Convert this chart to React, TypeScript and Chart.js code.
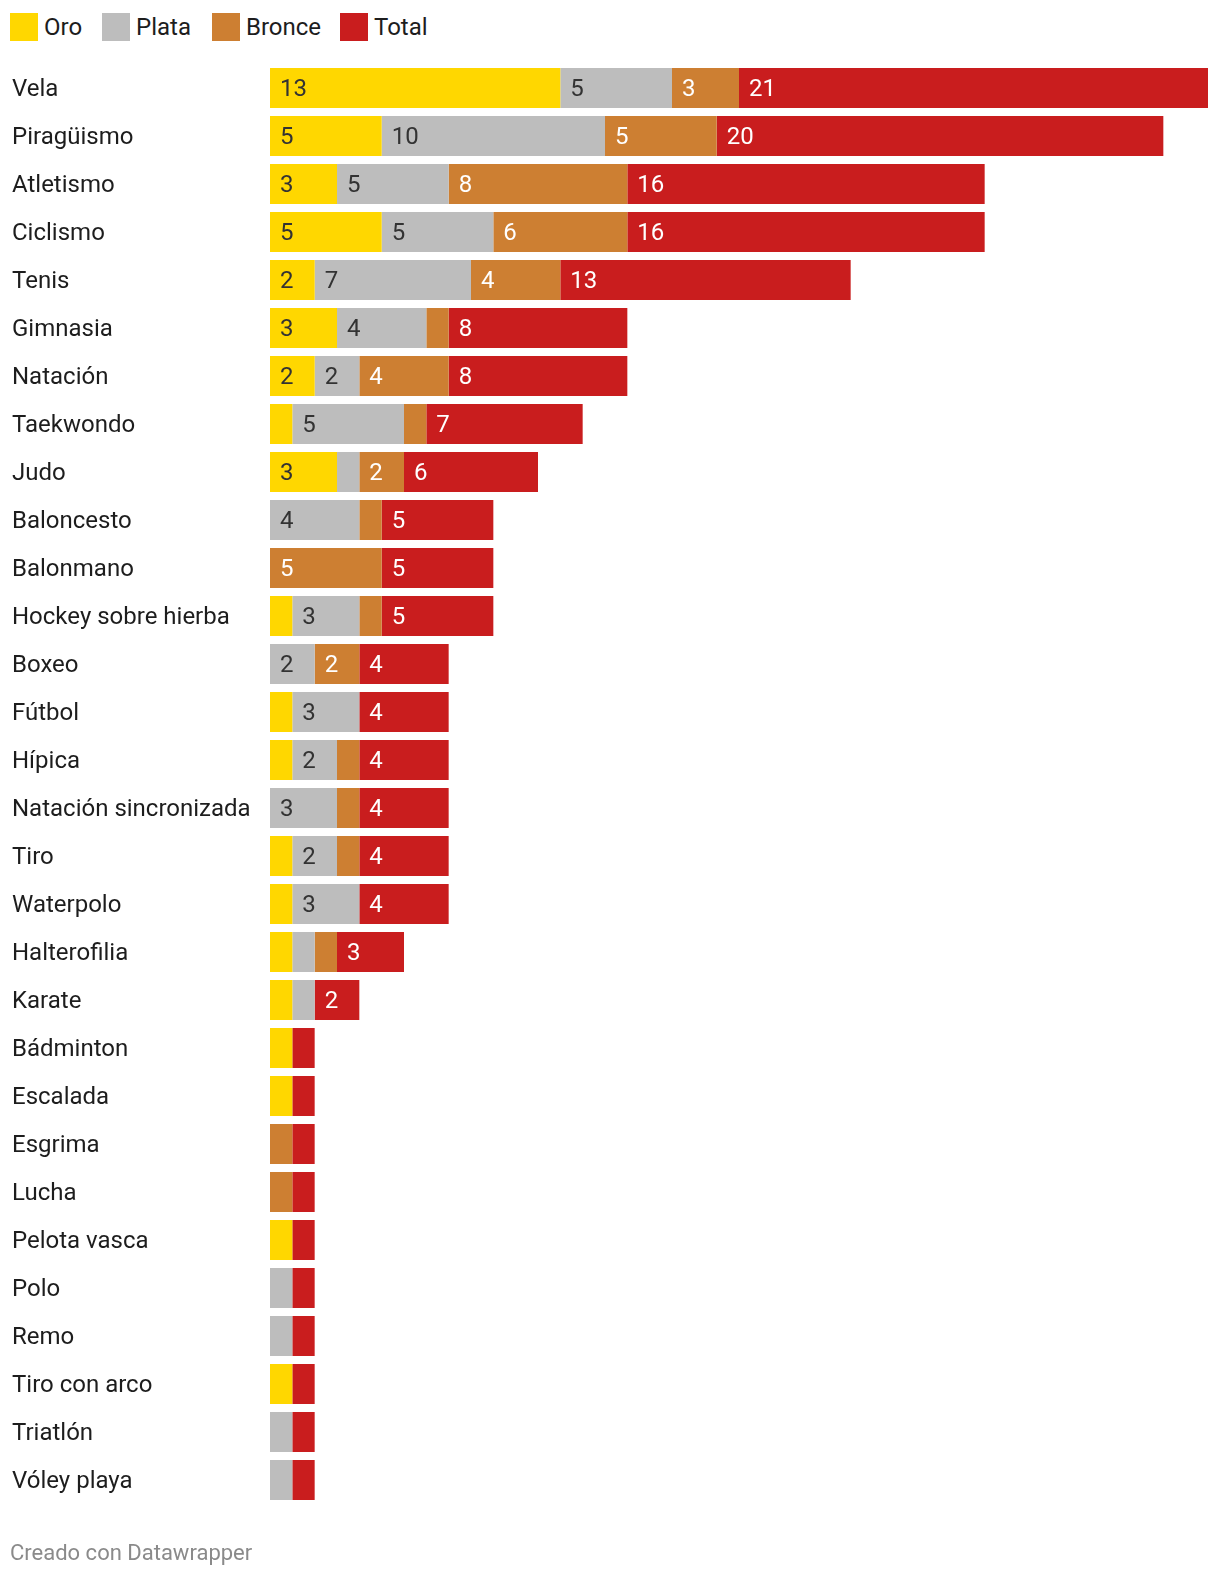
import React, { useEffect, useRef } from "react";
import { Chart, registerables } from "chart.js";

Chart.register(...registerables);

const categories = [
  "Vela", "Piragüismo", "Atletismo", "Ciclismo", "Tenis", "Gimnasia", "Natación",
  "Taekwondo", "Judo", "Baloncesto", "Balonmano", "Hockey sobre hierba", "Boxeo",
  "Fútbol", "Hípica", "Natación sincronizada", "Tiro", "Waterpolo", "Halterofilia",
  "Karate", "Bádminton", "Escalada", "Esgrima", "Lucha", "Pelota vasca", "Polo",
  "Remo", "Tiro con arco", "Triatlón", "Vóley playa",
];

const oro = [13, 5, 3, 5, 2, 3, 2, 1, 3, 0, 0, 1, 0, 1, 1, 0, 1, 1, 1, 1, 1, 1, 0, 0, 1, 0, 0, 1, 0, 0];
const plata = [5, 10, 5, 5, 7, 4, 2, 5, 1, 4, 0, 3, 2, 3, 2, 3, 2, 3, 1, 1, 0, 0, 0, 0, 0, 1, 1, 0, 1, 1];
const bronce = [3, 5, 8, 6, 4, 1, 4, 1, 2, 1, 5, 1, 2, 0, 1, 1, 1, 0, 1, 0, 0, 0, 1, 1, 0, 0, 0, 0, 0, 0];
const total = [21, 20, 16, 16, 13, 8, 8, 7, 6, 5, 5, 5, 4, 4, 4, 4, 4, 4, 3, 2, 1, 1, 1, 1, 1, 1, 1, 1, 1, 1];

const seriesNames = ["Oro", "Plata", "Bronce", "Total"];
const seriesColors = ["#ffd700", "#bdbdbd", "#cd7f32", "#c91d1e"];
const labelColors = ["#333333", "#333333", "#ffffff", "#ffffff"];

const FONT = "Roboto, 'Noto Sans', sans-serif";

const valueLabels = {
  id: "valueLabels",
  afterDatasetsDraw(chart: any) {
    const ctx = chart.ctx;
    ctx.save();
    ctx.font = `24px ${FONT}`;
    ctx.textBaseline = "middle";
    ctx.textAlign = "left";
    chart.data.datasets.forEach((ds: any, di: number) => {
      const meta = chart.getDatasetMeta(di);
      meta.data.forEach((el: any, i: number) => {
        const v = ds.data[i];
        if (v < 2) return;
        const { base, y } = el.getProps(["base", "y"], true);
        ctx.fillStyle = labelColors[di];
        ctx.fillText(String(v), base + 10, y + 1.5);
      });
    });
    ctx.restore();
  },
};

export default function App() {
  const ref = useRef<HTMLCanvasElement>(null);

  useEffect(() => {
    if (!ref.current) return;
    const data = [oro, plata, bronce, total];
    const chart = new Chart(ref.current, {
      type: "bar",
      data: {
        labels: categories,
        datasets: seriesNames.map((name, i) => ({
          label: name,
          data: data[i],
          backgroundColor: seriesColors[i],
          borderWidth: 0,
          barPercentage: 0.8333,
          categoryPercentage: 1,
        })),
      },
      options: {
        indexAxis: "y",
        responsive: false,
        animation: false,
        devicePixelRatio: 1,
        layout: { padding: { left: 12, right: 12, top: 64, bottom: 74 } },
        plugins: {
          legend: { display: false },
          tooltip: { enabled: false },
        },
        scales: {
          x: {
            stacked: true,
            display: false,
            min: 0,
            max: 42,
          },
          y: {
            stacked: true,
            grid: { display: false },
            border: { display: false },
            ticks: {
              autoSkip: false,
              crossAlign: "far",
              padding: 0,
              labelOffset: 2,
              color: "#1d1d1d",
              font: { family: FONT, size: 24 },
            },
            afterFit: (scale: any) => {
              scale.width = 258;
            },
          },
        },
      },
      plugins: [valueLabels],
    } as any);
    return () => chart.destroy();
  }, []);

  const legendLefts = [10, 102, 212, 340];

  return (
    <div
      style={{
        position: "absolute",
        left: 0,
        top: 0,
        width: 1220,
        height: 1578,
        background: "#fff",
        fontFamily: FONT,
      }}
    >
      {seriesNames.map((name, i) => (
        <div
          key={name}
          style={{
            position: "absolute",
            left: legendLefts[i],
            top: 13,
            height: 28,
            display: "flex",
            alignItems: "center",
          }}
        >
          <div style={{ width: 28, height: 28, background: seriesColors[i] }} />
          <span style={{ marginLeft: 6, fontSize: 24, color: "#1d1d1d", lineHeight: "28px" }}>{name}</span>
        </div>
      ))}
      <canvas
        ref={ref}
        width={1220}
        height={1578}
        style={{ position: "absolute", left: 0, top: 0, width: 1220, height: 1578 }}
      />
      <div
        style={{
          position: "absolute",
          left: 10,
          top: 1540,
          fontSize: 22,
          color: "#8a8a8a",
          lineHeight: "26px",
        }}
      >
        Creado con Datawrapper
      </div>
    </div>
  );
}
